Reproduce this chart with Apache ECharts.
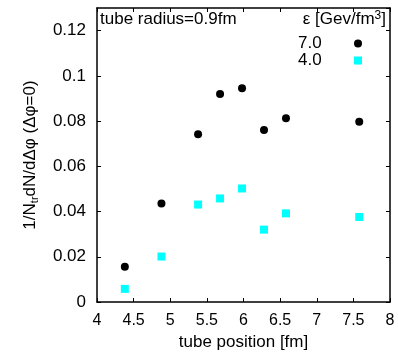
<!DOCTYPE html>
<html><head><meta charset="utf-8">
<script src="https://cdn.jsdelivr.net/npm/echarts@6/dist/echarts.min.js"></script>
<style>html,body{margin:0;padding:0;background:#fff}#c{width:398px;height:356px}</style>
</head><body><div id="c"></div>
<script>
const positions7 = [4.38, 4.88, 5.38, 5.68, 5.98, 6.28, 6.58, 7.58];
const values7 = [0.0156, 0.0436, 0.0742, 0.0920, 0.0945, 0.0761, 0.0812, 0.0797];
const positions4 = [4.38, 4.88, 5.38, 5.68, 5.98, 6.28, 6.58, 7.58];
const values4 = [0.0058, 0.0201, 0.0431, 0.0458, 0.0502, 0.0320, 0.0392, 0.0376];
const seriesNames = ['7.0', '4.0'];
const xTitle = 'tube position [fm]';
const yTitle = '1/N{sub|tr}dN/dΔφ (Δφ=0)';
const noteText = 'tube radius=0.9fm';
const legendTitle = 'ε [Gev/fm{sup|3}]';

const FONT = 'Liberation Sans, Arial, sans-serif';
const FS = 17;
const axisCommon = {
  axisLine: {show: true, onZero: false, lineStyle: {color: '#000', width: 1.5}},
  axisTick: {show: true, inside: true, length: 4, lineStyle: {color: '#000', width: 1}},
  splitLine: {show: false}
};
const chart = echarts.init(document.getElementById('c'), null, {renderer: 'canvas'});
chart.setOption({
  animation: false,
  backgroundColor: '#fff',
  textStyle: {fontFamily: FONT},
  grid: {left: 97, right: 8, top: 8, bottom: 54, containLabel: false},
  xAxis: [
    Object.assign({type: 'value', min: 4, max: 8, interval: 0.5, position: 'bottom',
      name: xTitle, nameLocation: 'middle', nameGap: 32,
      nameTextStyle: {fontSize: FS, color: '#000', fontFamily: FONT},
      axisLabel: {fontSize: 16, color: '#000', margin: 11, fontFamily: FONT}}, axisCommon),
    Object.assign({type: 'value', min: 4, max: 8, interval: 0.5, position: 'top',
      axisLabel: {show: false}}, axisCommon)
  ],
  yAxis: [
    Object.assign({type: 'value', min: 0, max: 0.13, interval: 0.02, position: 'left',
      name: yTitle, nameLocation: 'middle', nameGap: 57,
      nameTextStyle: {fontSize: FS, color: '#000', fontFamily: FONT, lineHeight: 20,
        rich: {sub: {fontSize: 11, fontFamily: FONT, color: '#000', verticalAlign: 'bottom', lineHeight: 12}}},
      axisLabel: {fontSize: FS, color: '#000', margin: 11, showMaxLabel: false, fontFamily: FONT}}, axisCommon),
    Object.assign({type: 'value', min: 0, max: 0.13, interval: 0.02, position: 'right',
      axisLabel: {show: false}}, axisCommon)
  ],
  legend: {
    orient: 'vertical', right: 31, top: 30, align: 'right', itemGap: 0,
    itemWidth: 8, itemHeight: 8,
    formatter: '{t|{name}}',
    textStyle: {fontSize: FS, color: '#000', fontFamily: FONT,
      rich: {t: {fontSize: FS, fontFamily: FONT, color: '#000', width: 51, align: 'left', lineHeight: 18}}},
    data: [{name: seriesNames[0], icon: 'circle'}, {name: seriesNames[1], icon: 'rect'}]
  },
  graphic: [
    {type: 'text', left: 100, top: 11, style: {text: noteText, fontSize: FS, fill: '#000', fontFamily: FONT}},
    {type: 'text', right: 12, top: 10, style: {text: legendTitle, fontSize: FS, fill: '#000', fontFamily: FONT,
      rich: {sup: {fontSize: 12, fontFamily: FONT, fill: '#000', verticalAlign: 'top', padding: [0, 0, 7, 0]}}}}
  ],
  series: [
    {name: seriesNames[0], type: 'scatter', symbol: 'circle', symbolSize: 8,
     itemStyle: {color: '#000', opacity: 1}, data: positions7.map((x, i) => [x, values7[i]])},
    {name: seriesNames[1], type: 'scatter', symbol: 'rect', symbolSize: 8,
     itemStyle: {color: '#00ffff', opacity: 1}, data: positions4.map((x, i) => [x, values4[i]])}
  ]
});
</script></body></html>
